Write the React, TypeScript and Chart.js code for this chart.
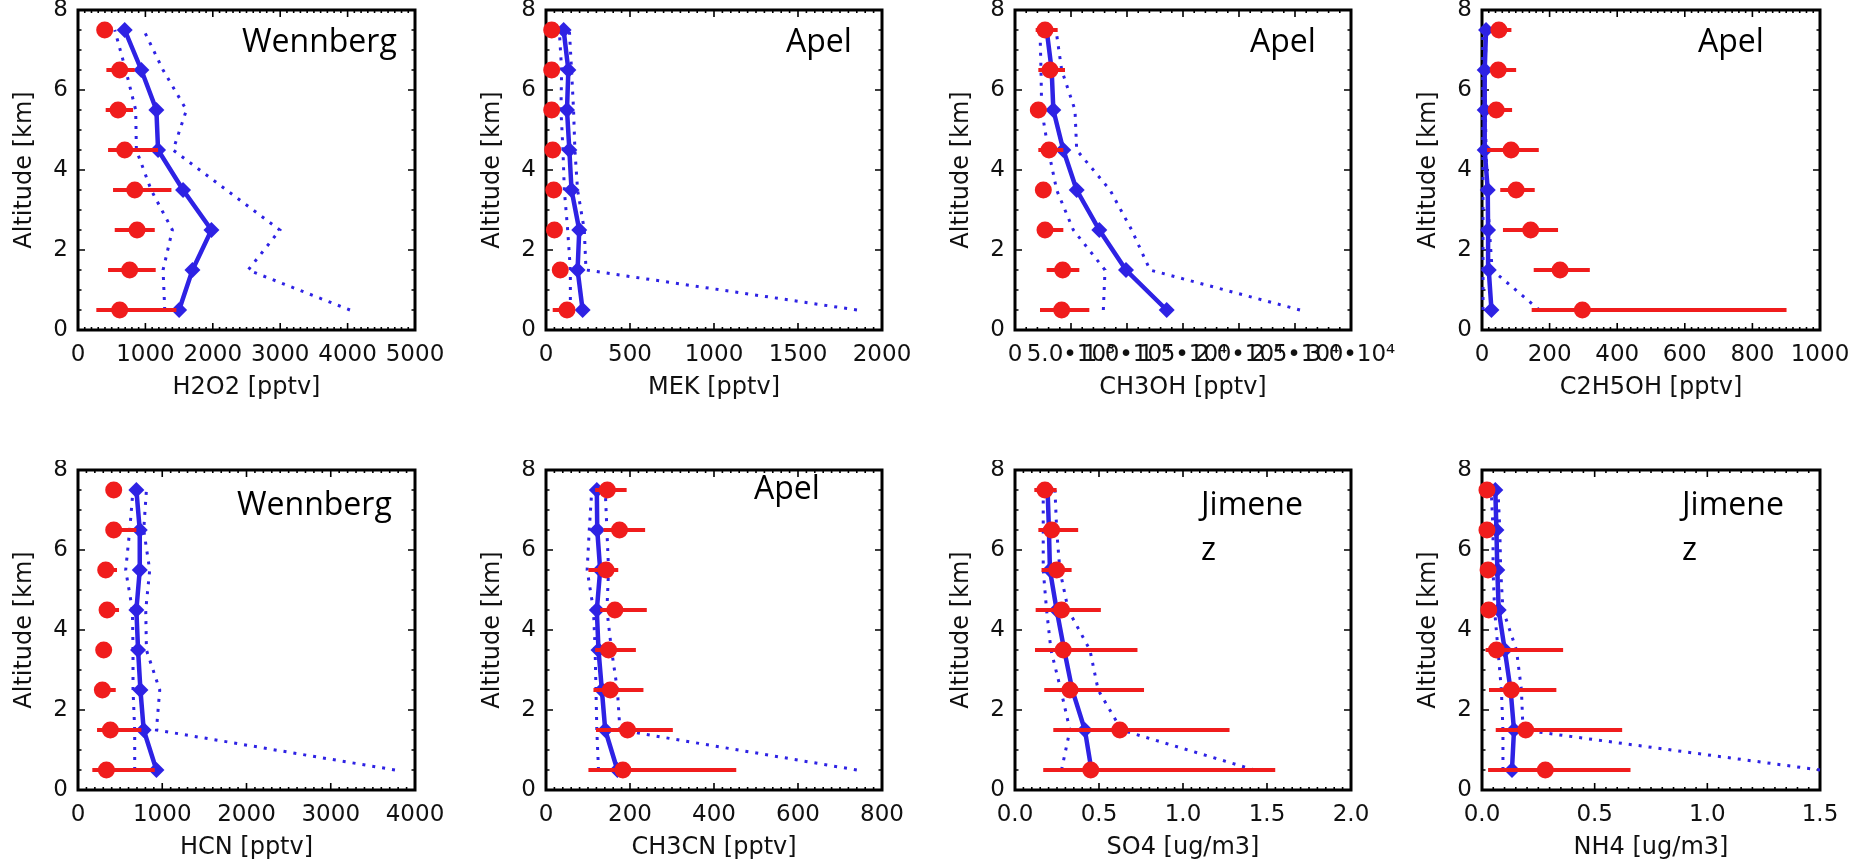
import React, { useEffect, useRef } from "react";
import { Chart, registerables } from "chart.js";

Chart.register(...registerables);

// ---------- shared axis data ----------
const ALTITUDES = [0.5, 1.5, 2.5, 3.5, 4.5, 5.5, 6.5, 7.5];
const Y_TICKS = [0, 2, 4, 6, 8];
const Y_TICK_LABELS = ["0", "2", "4", "6", "8"];

// ---------- H2O2 ----------
const H2O2_MEDIAN = [1500, 1698, 1980, 1559, 1188, 1163, 940, 693];
const H2O2_LOW = [1287, 1262, 1400, 1085, 866, 856, 708, 545];
const H2O2_HIGH = [4035, 2525, 2995, 2203, 1411, 1609, 1262, 975];
const H2O2_OBS = [619, 767, 876, 842, 693, 594, 619, 396];
const H2O2_OBS_LO = [272, 446, 545, 520, 446, 411, 421, 396];
const H2O2_OBS_HI = [1460, 1153, 1139, 1386, 1188, 817, 842, 396];
const H2O2_X_TICKS = [0, 1000, 2000, 3000, 4000, 5000];
const H2O2_X_LABELS = ["0", "1000", "2000", "3000", "4000", "5000"];

// ---------- MEK ----------
const MEK_MEDIAN = [218, 188, 198, 152, 139, 125, 133, 105];
const MEK_LOW = [145, 145, 129, 109, 101, 89, 93, 79];
const MEK_HIGH = [1851, 238, 228, 188, 172, 164, 152, 139];
const MEK_OBS = [125, 85, 50, 46, 40, 34, 34, 34];
const MEK_OBS_LO = [40, 70, 40, 30, 25, 20, 20, 20];
const MEK_OBS_HI = [168, 100, 60, 60, 55, 48, 48, 48];
const MEK_X_TICKS = [0, 500, 1000, 1500, 2000];
const MEK_X_LABELS = ["0", "500", "1000", "1500", "2000"];

// ---------- CH3OH ----------
const CH3OH_MEDIAN = [13542, 9911, 7530, 5506, 4315, 3423, 3274, 2827];
const CH3OH_LOW = [7887, 8036, 5208, 3720, 2976, 2381, 2321, 2232];
const CH3OH_HIGH = [25446, 12054, 10417, 8482, 5506, 5357, 4167, 3661];
const CH3OH_OBS = [4167, 4256, 2679, 2530, 3036, 2083, 3125, 2679];
const CH3OH_OBS_LO = [2232, 2827, 2381, 2530, 2083, 1339, 2083, 1845];
const CH3OH_OBS_HI = [6637, 5744, 4315, 2530, 4315, 2827, 4464, 3810];
const CH3OH_X_TICKS = [0, 5000, 10000, 15000, 20000, 25000, 30000];
const CH3OH_X_LABELS = ["0", "5.0•10³", "1.0•10⁴", "1.5•10⁴", "2.0•10⁴", "2.5•10⁴", "3.0•10⁴"];

// ---------- C2H5OH ----------
const C2H5OH_MEDIAN = [28, 20, 18, 17, 8, 8, 8, 12];
const C2H5OH_LOW = [3, 3, 3, 3, 2, 2, 2, 2];
const C2H5OH_HIGH = [170, 30, 22, 15, 12, 10, 10, 12];
const C2H5OH_OBS = [297, 231, 144, 101, 86, 42, 48, 50];
const C2H5OH_OBS_LO = [147, 153, 62, 54, 15, 20, 30, 30];
const C2H5OH_OBS_HI = [901, 319, 225, 156, 168, 89, 101, 87];
const C2H5OH_X_TICKS = [0, 200, 400, 600, 800, 1000];
const C2H5OH_X_LABELS = ["0", "200", "400", "600", "800", "1000"];

// ---------- HCN ----------
const HCN_MEDIAN = [931, 780, 741, 713, 693, 733, 733, 693];
const HCN_LOW = [673, 673, 653, 653, 646, 566, 614, 653];
const HCN_HIGH = [3762, 931, 970, 812, 804, 851, 780, 812];
const HCN_OBS = [337, 384, 289, 305, 345, 329, 424, 424];
const HCN_OBS_LO = [170, 226, 257, 305, 305, 297, 376, 424];
const HCN_OBS_HI = [911, 752, 448, 305, 487, 463, 693, 424];
const HCN_X_TICKS = [0, 1000, 2000, 3000, 4000];
const HCN_X_LABELS = ["0", "1000", "2000", "3000", "4000"];

// ---------- CH3CN ----------
const CH3CN_MEDIAN = [170, 141, 133, 125, 121, 129, 122, 121];
const CH3CN_LOW = [125, 121, 119, 117, 113, 98, 103, 109];
const CH3CN_HIGH = [740, 176, 170, 156, 145, 149, 145, 141];
const CH3CN_OBS = [183, 194, 153, 149, 164, 143, 175, 146];
const CH3CN_OBS_LO = [101, 119, 113, 117, 129, 101, 137, 117];
const CH3CN_OBS_HI = [453, 302, 232, 214, 240, 172, 236, 192];
const CH3CN_X_TICKS = [0, 200, 400, 600, 800];
const CH3CN_X_LABELS = ["0", "200", "400", "600", "800"];

// ---------- SO4 ----------
const SO4_MEDIAN = [0.455, 0.416, 0.341, 0.293, 0.248, 0.208, 0.202, 0.194];
const SO4_LOW = [0.277, 0.327, 0.273, 0.214, 0.188, 0.168, 0.168, 0.168];
const SO4_HIGH = [1.426, 0.634, 0.495, 0.446, 0.317, 0.267, 0.248, 0.238];
const SO4_OBS = [0.451, 0.624, 0.327, 0.287, 0.277, 0.248, 0.218, 0.178];
const SO4_OBS_LO = [0.168, 0.228, 0.174, 0.119, 0.123, 0.158, 0.139, 0.115];
const SO4_OBS_HI = [1.549, 1.277, 0.768, 0.729, 0.511, 0.337, 0.376, 0.248];
const SO4_X_TICKS = [0, 0.5, 1.0, 1.5, 2.0];
const SO4_X_LABELS = ["0.0", "0.5", "1.0", "1.5", "2.0"];

// ---------- NH4 ----------
const NH4_MEDIAN = [0.133, 0.142, 0.127, 0.101, 0.074, 0.068, 0.064, 0.059];
const NH4_LOW = [0.093, 0.093, 0.086, 0.071, 0.056, 0.049, 0.049, 0.041];
const NH4_HIGH = [1.5, 0.182, 0.175, 0.153, 0.093, 0.083, 0.079, 0.071];
const NH4_OBS = [0.281, 0.194, 0.13, 0.064, 0.03, 0.027, 0.022, 0.022];
const NH4_OBS_LO = [0.027, 0.061, 0.031, 0.016, 0.03, 0.027, 0.022, 0.022];
const NH4_OBS_HI = [0.659, 0.622, 0.33, 0.36, 0.03, 0.027, 0.022, 0.022];
const NH4_X_TICKS = [0, 0.5, 1.0, 1.5];
const NH4_X_LABELS = ["0.0", "0.5", "1.0", "1.5"];

// ---------- layout & style ----------
const BLUE = "#2e22e4";
const RED = "#f01c1c";
const AXIS_FONT = "DejaVu Sans";
const TAG_FONT = "Open Sans";
const TICK_SIZE = 23;
const TITLE_SIZE = 24;
const Y_AXIS_W = 78;
const X_AXIS_H = 85;
const PAD_TOP = 10;
const PAD_RIGHT = 45;
const COLS = [
  [78, 415],
  [546, 882],
  [1015, 1351],
  [1482, 1820],
];
const ROWS = [
  [10, 330],
  [470, 790],
];

type Panel = {
  key: string;
  title: string;
  median: number[];
  low: number[];
  high: number[];
  obs: number[];
  obsLo: number[];
  obsHi: number[];
  xTicks: number[];
  xLabels: string[];
  minor: number;
  col: number;
  row: number;
  tag: string[];
  tagX: number;
  tagY: number;
};

const PANELS: Panel[] = [
  { key: "h2o2", title: "H2O2 [pptv]", median: H2O2_MEDIAN, low: H2O2_LOW, high: H2O2_HIGH, obs: H2O2_OBS, obsLo: H2O2_OBS_LO, obsHi: H2O2_OBS_HI, xTicks: H2O2_X_TICKS, xLabels: H2O2_X_LABELS, minor: 10, col: 0, row: 0, tag: ["Wennberg"], tagX: 242, tagY: 52 },
  { key: "mek", title: "MEK [pptv]", median: MEK_MEDIAN, low: MEK_LOW, high: MEK_HIGH, obs: MEK_OBS, obsLo: MEK_OBS_LO, obsHi: MEK_OBS_HI, xTicks: MEK_X_TICKS, xLabels: MEK_X_LABELS, minor: 10, col: 1, row: 0, tag: ["Apel"], tagX: 786, tagY: 52 },
  { key: "ch3oh", title: "CH3OH [pptv]", median: CH3OH_MEDIAN, low: CH3OH_LOW, high: CH3OH_HIGH, obs: CH3OH_OBS, obsLo: CH3OH_OBS_LO, obsHi: CH3OH_OBS_HI, xTicks: CH3OH_X_TICKS, xLabels: CH3OH_X_LABELS, minor: 5, col: 2, row: 0, tag: ["Apel"], tagX: 1250, tagY: 52 },
  { key: "c2h5oh", title: "C2H5OH [pptv]", median: C2H5OH_MEDIAN, low: C2H5OH_LOW, high: C2H5OH_HIGH, obs: C2H5OH_OBS, obsLo: C2H5OH_OBS_LO, obsHi: C2H5OH_OBS_HI, xTicks: C2H5OH_X_TICKS, xLabels: C2H5OH_X_LABELS, minor: 10, col: 3, row: 0, tag: ["Apel"], tagX: 1698, tagY: 52 },
  { key: "hcn", title: "HCN [pptv]", median: HCN_MEDIAN, low: HCN_LOW, high: HCN_HIGH, obs: HCN_OBS, obsLo: HCN_OBS_LO, obsHi: HCN_OBS_HI, xTicks: HCN_X_TICKS, xLabels: HCN_X_LABELS, minor: 10, col: 0, row: 1, tag: ["Wennberg"], tagX: 237, tagY: 515 },
  { key: "ch3cn", title: "CH3CN [pptv]", median: CH3CN_MEDIAN, low: CH3CN_LOW, high: CH3CN_HIGH, obs: CH3CN_OBS, obsLo: CH3CN_OBS_LO, obsHi: CH3CN_OBS_HI, xTicks: CH3CN_X_TICKS, xLabels: CH3CN_X_LABELS, minor: 10, col: 1, row: 1, tag: ["Apel"], tagX: 754, tagY: 499 },
  { key: "so4", title: "SO4 [ug/m3]", median: SO4_MEDIAN, low: SO4_LOW, high: SO4_HIGH, obs: SO4_OBS, obsLo: SO4_OBS_LO, obsHi: SO4_OBS_HI, xTicks: SO4_X_TICKS, xLabels: SO4_X_LABELS, minor: 10, col: 2, row: 1, tag: ["Jimene", "z"], tagX: 1201, tagY: 515 },
  { key: "nh4", title: "NH4 [ug/m3]", median: NH4_MEDIAN, low: NH4_LOW, high: NH4_HIGH, obs: NH4_OBS, obsLo: NH4_OBS_LO, obsHi: NH4_OBS_HI, xTicks: NH4_X_TICKS, xLabels: NH4_X_LABELS, minor: 10, col: 3, row: 1, tag: ["Jimene", "z"], tagX: 1682, tagY: 515 },
];

function geometry(p: Panel) {
  const [l, r] = COLS[p.col];
  const [t, b] = ROWS[p.row];
  const left = l - Y_AXIS_W;
  const top = t - PAD_TOP;
  const width = r - l + Y_AXIS_W + PAD_RIGHT;
  const height = b - t + PAD_TOP + X_AXIS_H;
  return { left, top, width, height };
}

function buildConfig(p: Panel, geo: { left: number; top: number }) {
  const pts = (vals: number[]) => ALTITUDES.map((a, i) => ({ x: vals[i], y: a }));
  const bars = ALTITUDES.flatMap((a, i) => [
    { x: p.obsLo[i], y: a },
    { x: p.obsHi[i], y: a },
    { x: null, y: null },
  ]);
  const xMax = p.xTicks[p.xTicks.length - 1];
  const xStep = p.xTicks[1] - p.xTicks[0];

  const framePlugin = {
    id: "frame_" + p.key,
    beforeDatasetsDraw(chart: any) {
      const { ctx, chartArea } = chart;
      const { left, right, top, bottom } = chartArea;
      const xs = chart.scales.x;
      const ys = chart.scales.y;
      ctx.save();
      ctx.strokeStyle = "#000";
      ctx.lineWidth = 1.6;
      ctx.beginPath();
      const nx = Math.round((xMax / xStep) * p.minor);
      for (let k = 0; k <= nx; k++) {
        const v = (k / nx) * xMax;
        const px = xs.getPixelForValue(v);
        const len = k % p.minor === 0 ? 7 : 3;
        ctx.moveTo(px, bottom);
        ctx.lineTo(px, bottom - len);
        ctx.moveTo(px, top);
        ctx.lineTo(px, top + len);
      }
      const ny = 16;
      for (let k = 0; k <= ny; k++) {
        const v = (k / ny) * 8;
        const py = ys.getPixelForValue(v);
        const len = k % 4 === 0 ? 7 : 3.5;
        ctx.moveTo(left, py);
        ctx.lineTo(left + len, py);
        ctx.moveTo(right, py);
        ctx.lineTo(right - len, py);
      }
      ctx.stroke();
      ctx.lineWidth = 3;
      ctx.strokeRect(left, top, right - left, bottom - top);
      ctx.restore();
    },
  };

  const tagPlugin = {
    id: "tag_" + p.key,
    afterDatasetsDraw(chart: any) {
      const { ctx } = chart;
      ctx.save();
      ctx.font = `32px "${TAG_FONT}"`;
      ctx.fillStyle = "#000";
      ctx.textAlign = "left";
      ctx.textBaseline = "alphabetic";
      p.tag.forEach((line, i) => {
        ctx.fillText(line, p.tagX - geo.left, p.tagY - geo.top + i * 45);
      });
      ctx.restore();
    },
  };

  return {
    type: "line" as const,
    data: {
      datasets: [
        {
          label: "observed",
          data: pts(p.obs),
          showLine: false,
          pointRadius: 8.5,
          pointBackgroundColor: RED,
          pointBorderWidth: 0,
          pointStyle: "circle",
          order: 0,
          clip: false,
        },
        {
          label: "observed range",
          data: bars,
          borderColor: RED,
          borderWidth: 4,
          pointRadius: 0,
          spanGaps: false,
          order: 1,
          clip: false,
        },
        {
          label: "median",
          data: pts(p.median),
          borderColor: BLUE,
          borderWidth: 4.5,
          pointStyle: "rectRot",
          pointRadius: 8,
          pointBackgroundColor: BLUE,
          pointBorderWidth: 0,
          order: 2,
          clip: false,
        },
        {
          label: "low",
          data: pts(p.low),
          borderColor: BLUE,
          borderWidth: 3,
          borderDash: [3, 7],
          pointRadius: 0,
          order: 3,
          clip: false,
        },
        {
          label: "high",
          data: pts(p.high),
          borderColor: BLUE,
          borderWidth: 3,
          borderDash: [3, 7],
          pointRadius: 0,
          order: 3,
          clip: false,
        },
      ],
    },
    options: {
      animation: false as const,
      responsive: false,
      devicePixelRatio: 1,
      events: [],
      layout: { padding: { left: 0, top: PAD_TOP, right: PAD_RIGHT, bottom: 0 } },
      plugins: { legend: { display: false }, tooltip: { enabled: false } },
      scales: {
        x: {
          type: "linear" as const,
          min: 0,
          max: xMax,
          afterBuildTicks: (s: any) => {
            s.ticks = p.xTicks.map((v) => ({ value: v }));
          },
          afterFit: (s: any) => {
            s.height = X_AXIS_H;
            s.paddingLeft = 0;
            s.paddingRight = 0;
          },
          ticks: {
            autoSkip: false,
            maxRotation: 0,
            minRotation: 0,
            padding: 11,
            color: "#111",
            font: { size: TICK_SIZE, family: AXIS_FONT },
            callback: (_v: any, i: number) => p.xLabels[i],
          },
          grid: { display: false, drawTicks: false },
          border: { display: false },
          title: {
            display: true,
            text: p.title,
            color: "#111",
            font: { size: TITLE_SIZE, family: AXIS_FONT },
            padding: { top: 0, bottom: 13 },
          },
        },
        y: {
          type: "linear" as const,
          min: 0,
          max: 8,
          afterBuildTicks: (s: any) => {
            s.ticks = Y_TICKS.map((v) => ({ value: v }));
          },
          afterFit: (s: any) => {
            s.width = Y_AXIS_W;
            s.paddingTop = 0;
            s.paddingBottom = 0;
          },
          ticks: {
            autoSkip: false,
            padding: 10,
            color: "#111",
            font: { size: TICK_SIZE, family: AXIS_FONT },
            callback: (_v: any, i: number) => Y_TICK_LABELS[i],
          },
          grid: { display: false, drawTicks: false },
          border: { display: false },
          title: {
            display: true,
            text: "Altitude [km]",
            color: "#111",
            font: { size: TITLE_SIZE, family: AXIS_FONT },
            padding: { top: 10, bottom: 0 },
          },
        },
      },
    },
    plugins: [framePlugin, tagPlugin],
  };
}

function PanelChart({ p }: { p: Panel }) {
  const ref = useRef<HTMLCanvasElement | null>(null);
  const geo = geometry(p);
  useEffect(() => {
    if (!ref.current) return;
    const chart = new Chart(ref.current, buildConfig(p, geo) as any);
    return () => chart.destroy();
  }, [p]);
  return (
    <canvas
      ref={ref}
      width={geo.width}
      height={geo.height}
      style={{ position: "absolute", left: geo.left, top: geo.top, width: geo.width, height: geo.height }}
    />
  );
}

export default function App() {
  return (
    <div
      style={{
        position: "absolute",
        left: 0,
        top: 0,
        width: 1856,
        height: 864,
        overflow: "hidden",
        background: "#fff",
      }}
    >
      {PANELS.map((p) => (
        <PanelChart key={p.key} p={p} />
      ))}
    </div>
  );
}
